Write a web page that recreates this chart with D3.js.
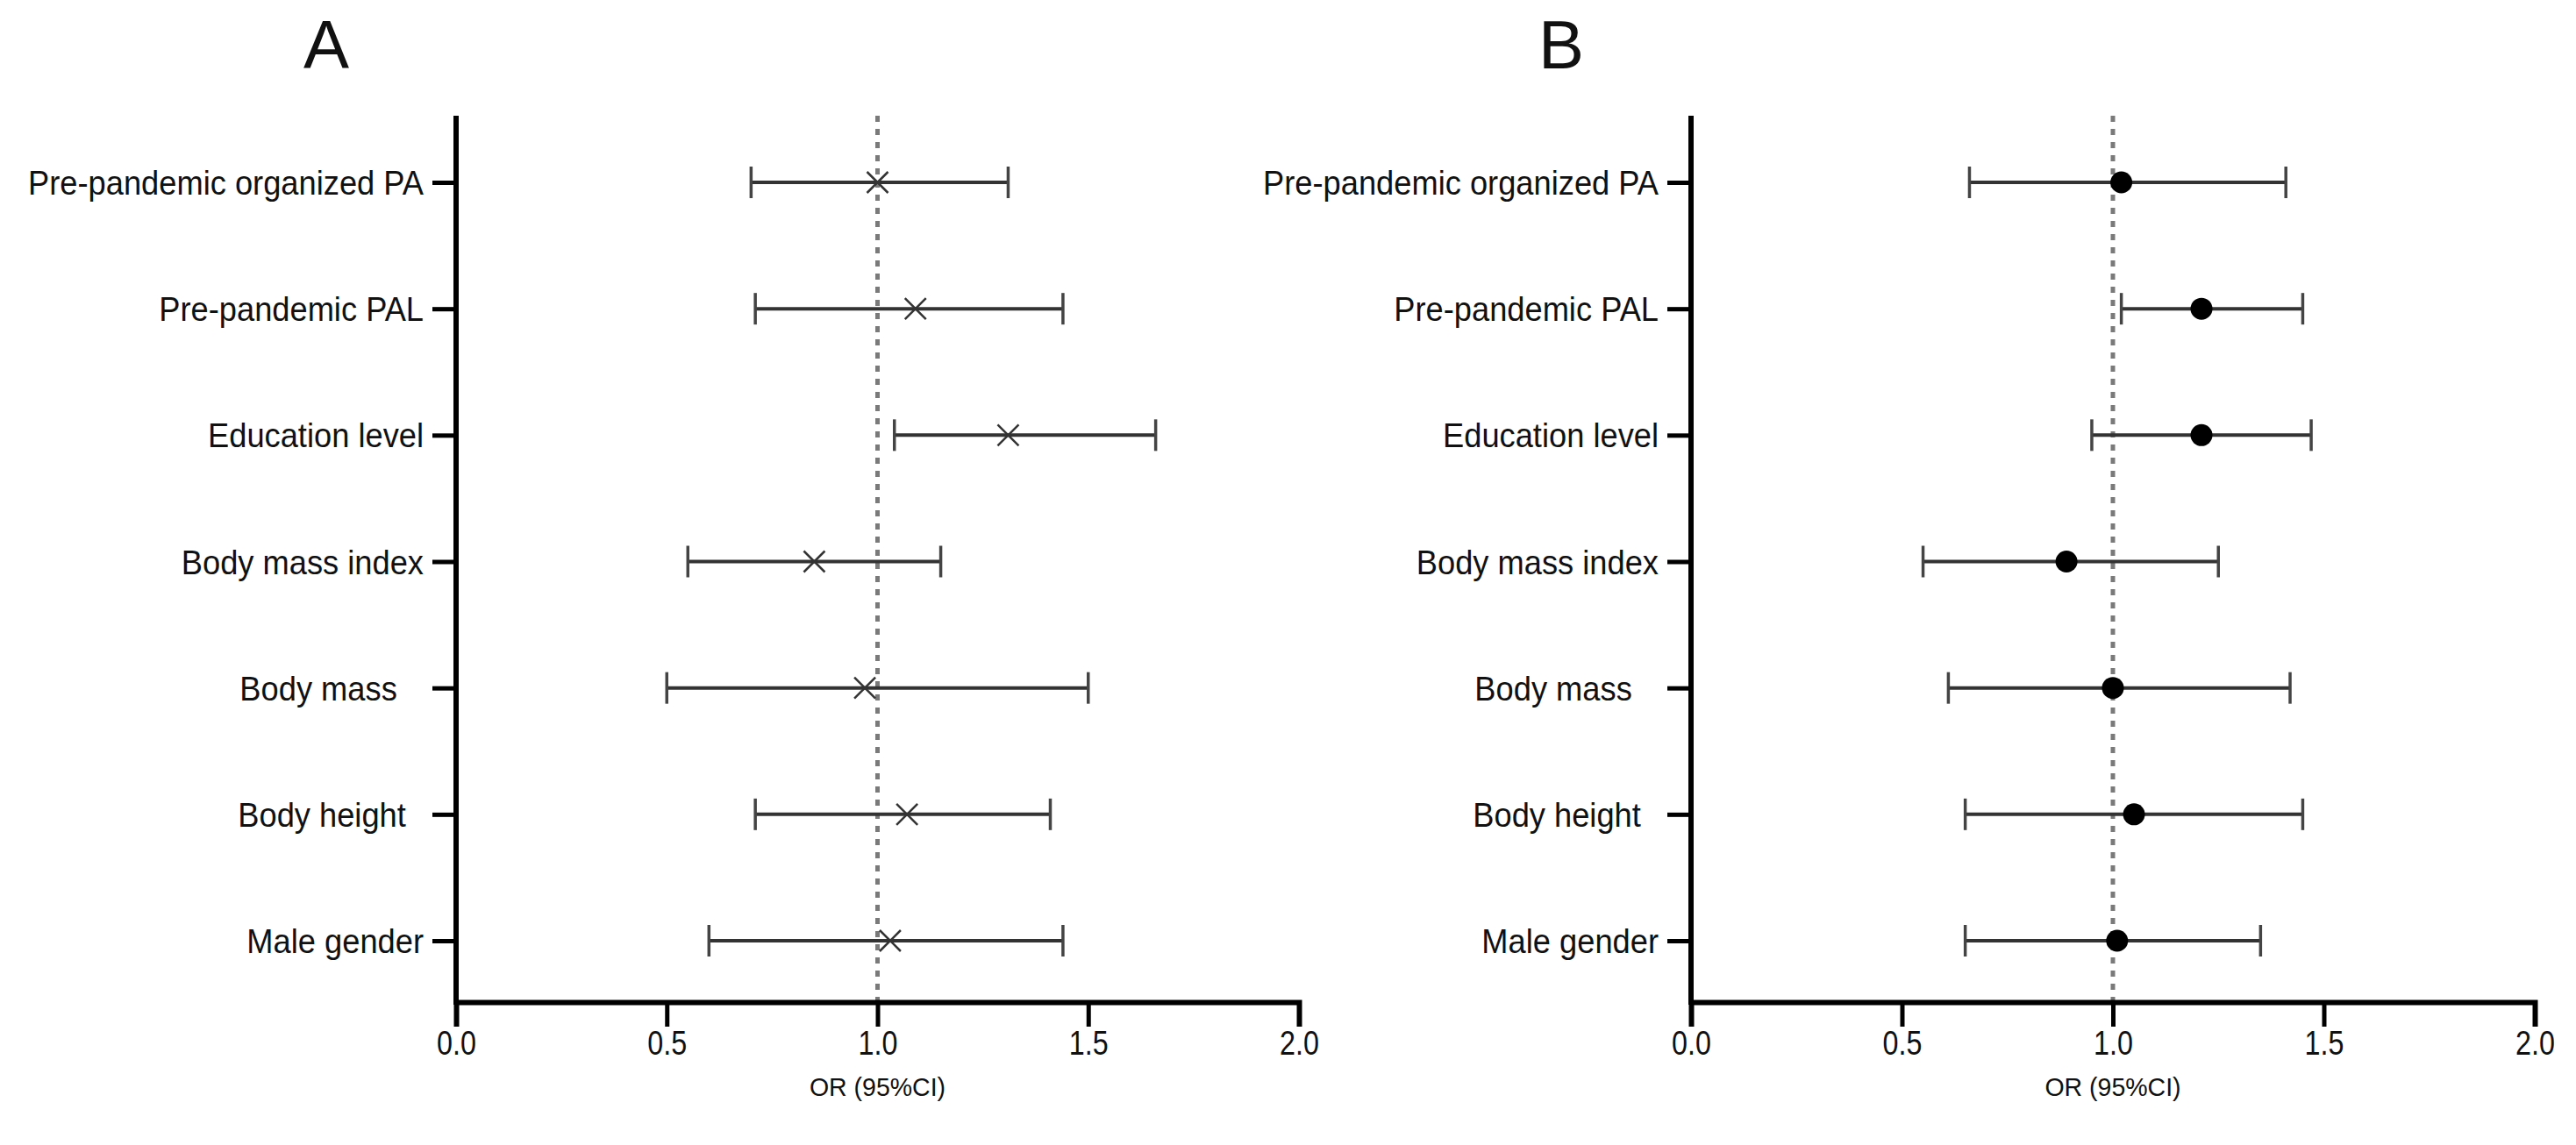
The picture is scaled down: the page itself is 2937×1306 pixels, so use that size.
<!DOCTYPE html>
<html>
<head>
<meta charset="utf-8">
<script src="https://cdn.jsdelivr.net/npm/d3@7"></script>
<style>
  html, body { margin: 0; padding: 0; background: #fff; }
  svg text { font-family: "Liberation Sans", Arial, sans-serif; fill: #111; }
</style>
</head>
<body>
<svg id="chart" width="2937" height="1306"></svg>
<script>
// ---- data ----
const categories = ["Pre-pandemic organized PA", "Pre-pandemic PAL", "Education level",
                    "Body mass index", "Body mass   ", "Body height  ", "Male gender"];
const orA   = [1.00, 1.09, 1.31, 0.85, 0.97, 1.07, 1.03];
const lowA  = [0.70, 0.71, 1.04, 0.55, 0.50, 0.71, 0.60];
const highA = [1.31, 1.44, 1.66, 1.15, 1.50, 1.41, 1.44];
const orB   = [1.02, 1.21, 1.21, 0.89, 1.00, 1.05, 1.01];
const lowB  = [0.66, 1.02, 0.95, 0.55, 0.61, 0.65, 0.65];
const highB = [1.41, 1.45, 1.47, 1.25, 1.42, 1.45, 1.35];
const xTicks = [0.0, 0.5, 1.0, 1.5, 2.0];
const panelTitles = ["A", "B"];
const xAxisTitle = "OR (95%CI)";
const refValue = 1.0;

const svg = d3.select("#chart");

function squeeze(sel, factor) {
  sel.each(function () {
    const len = this.getComputedTextLength();
    d3.select(this).attr("textLength", len * factor).attr("lengthAdjust", "spacingAndGlyphs");
  });
}

const panels = [
  { title: panelTitles[0], or: orA, lo: lowA, hi: highA, x0: 520, x1: 1481, marker: "cross" },
  { title: panelTitles[1], or: orB, lo: lowB, hi: highB, x0: 1928, x1: 2890, marker: "dot" }
];

const yTop = 132, yBase = 1143;
const y = d3.scalePoint().domain(categories).range([208, 1073]);

panels.forEach(p => {
  const g = svg.append("g");
  const x = d3.scaleLinear().domain([0, 2]).range([p.x0, p.x1]);

  // title
  g.append("text").attr("x", p.x0 - 148).attr("y", 78)
    .attr("text-anchor", "middle").attr("font-size", 78).text(p.title);

  // reference dotted line
  g.append("line")
    .attr("x1", x(refValue)).attr("x2", x(refValue))
    .attr("y1", yTop).attr("y2", yBase)
    .attr("stroke", "#7a7a7a").attr("stroke-width", 5)
    .attr("stroke-dasharray", "7,8");

  // y axis
  const yAxis = g.append("g").attr("transform", `translate(${p.x0},0)`)
    .call(d3.axisLeft(y).tickSize(27).tickPadding(10));
  yAxis.select(".domain").remove();
  yAxis.selectAll(".tick line").attr("stroke", "#000").attr("stroke-width", 5);
  yAxis.selectAll(".tick text")
    .attr("font-size", 39).attr("fill", "#111").attr("dy", "0.35em")
    .style("white-space", "pre").attr("font-family", "Liberation Sans, Arial, sans-serif");
  yAxis.selectAll(".tick text").call(squeeze, 0.93);
  g.append("line").attr("x1", p.x0).attr("x2", p.x0)
    .attr("y1", yTop).attr("y2", yBase + 3)
    .attr("stroke", "#000").attr("stroke-width", 6);

  // x axis
  const xAxis = g.append("g").attr("transform", `translate(0,${yBase})`)
    .call(d3.axisBottom(x).tickValues(xTicks).tickFormat(d3.format(".1f"))
      .tickSizeOuter(0).tickSize(28).tickPadding(5));
  xAxis.select(".domain").attr("stroke", "#000").attr("stroke-width", 6);
  xAxis.selectAll(".tick line").attr("stroke", "#000").attr("stroke-width", 5);
  xAxis.selectAll(".tick text")
    .attr("font-size", 38).attr("fill", "#222")
    .attr("font-family", "Liberation Sans, Arial, sans-serif");
  xAxis.selectAll(".tick text").call(squeeze, 0.85);

  g.append("text").attr("x", x(refValue)).attr("y", 1250)
    .attr("text-anchor", "middle").attr("font-size", 30).attr("fill", "#222")
    .text(xAxisTitle).call(squeeze, 0.95);

  // error bars
  const rows = categories.map((c, i) => ({ c, or: p.or[i], lo: p.lo[i], hi: p.hi[i] }));
  const eb = g.append("g");
  eb.selectAll("line.bar").data(rows).join("line").attr("class", "bar")
    .attr("x1", d => x(d.lo)).attr("x2", d => x(d.hi))
    .attr("y1", d => y(d.c)).attr("y2", d => y(d.c))
    .attr("stroke", "#333").attr("stroke-width", 4);
  ["lo", "hi"].forEach(k => {
    eb.selectAll("line.cap" + k).data(rows).join("line").attr("class", "cap" + k)
      .attr("x1", d => x(d[k])).attr("x2", d => x(d[k]))
      .attr("y1", d => y(d.c) - 18).attr("y2", d => y(d.c) + 18)
      .attr("stroke", "#444").attr("stroke-width", 3.5);
  });

  // markers
  if (p.marker === "cross") {
    const s = 12;
    eb.selectAll("path.mk").data(rows).join("path").attr("class", "mk")
      .attr("d", d => {
        const cx = x(d.or), cy = y(d.c);
        return `M${cx - s},${cy - s}L${cx + s},${cy + s}M${cx - s},${cy + s}L${cx + s},${cy - s}`;
      })
      .attr("stroke", "#333").attr("stroke-width", 2.5).attr("fill", "none");
  } else {
    eb.selectAll("circle.mk").data(rows).join("circle").attr("class", "mk")
      .attr("cx", d => x(d.or)).attr("cy", d => y(d.c)).attr("r", 12.5)
      .attr("fill", "#000");
  }
});
</script>
</body>
</html>
